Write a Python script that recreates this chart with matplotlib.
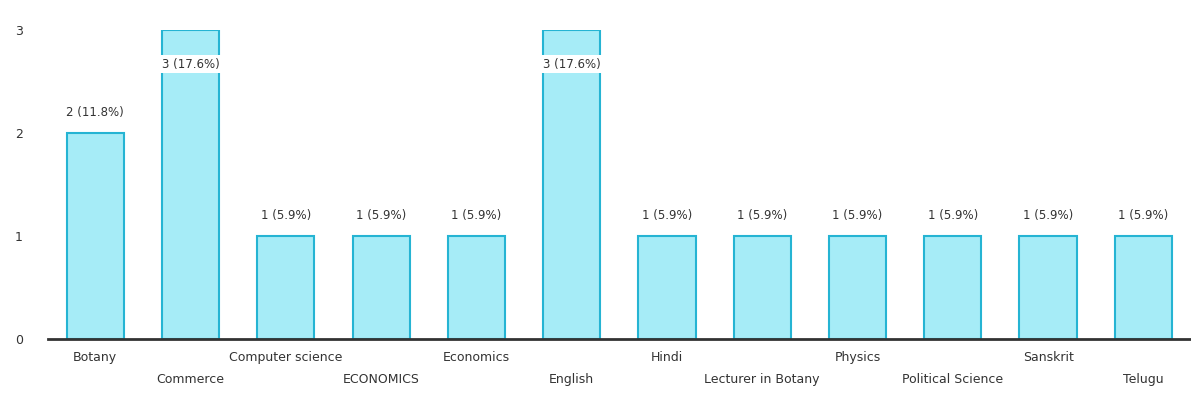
import matplotlib
matplotlib.use("Agg")
import matplotlib.pyplot as plt
import numpy as np

# subjects and counts
subjects = ["Botany", "Commerce", "Computer science", "ECONOMICS", "Economics",
            "English", "Hindi", "Lecturer in Botany", "Physics",
            "Political Science", "Sanskrit", "Telugu"]
counts = [2, 3, 1, 1, 1, 3, 1, 1, 1, 1, 1, 1]

total = sum(counts)
x = np.arange(len(subjects))

fig = plt.figure(figsize=(11.91, 4.01), dpi=100)
ax = fig.add_axes([0.04, 0.155, 0.96, 0.77])

ax.bar(x, counts, width=0.6, color="#a6ecf7", edgecolor="#25b4d3", linewidth=1.5)

ax.set_xlim(-0.5, len(subjects) - 0.5)
ax.set_ylim(0, 3)

# value labels, the tallest ones get pushed inside the bar
for xi, v in zip(x, counts):
    txt = f"{v} ({v / total * 100:.1f}%)"
    if v >= max(counts):
        ax.text(xi, v - 0.33, txt, ha="center", va="center", fontsize=8.5,
                color="#333333",
                bbox=dict(facecolor="white", edgecolor="none", pad=1.5))
    else:
        ax.text(xi, v + 0.2, txt, ha="center", va="center", fontsize=8.5,
                color="#333333")

# staggered category labels
ax.set_xticks(x)
ax.set_xticklabels([])
for xi, name in zip(x, subjects):
    yoff = -0.04 if xi % 2 == 0 else -0.11
    ax.text(xi, yoff, name, ha="center", va="top", fontsize=9, color="#333333",
            transform=ax.get_xaxis_transform())

ax.set_yticks([0, 1, 2, 3])
ax.tick_params(axis="both", length=0, labelsize=9, labelcolor="#333333", pad=18)

for side in ["top", "right", "left"]:
    ax.spines[side].set_visible(False)
ax.spines["bottom"].set_color("#333333")
ax.spines["bottom"].set_linewidth(2)

fig.savefig("out.png", dpi=100)
